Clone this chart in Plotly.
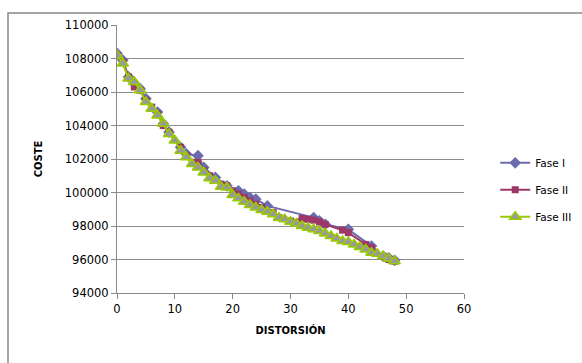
import plotly.graph_objects as go

fase1_x = [0, 1, 2, 3, 4, 5, 7, 8, 9, 11, 12, 14, 15, 17, 19, 21, 22, 23, 24, 26, 34, 35, 36, 40, 44, 46, 47, 48]
fase1_y = [108300, 107900, 106900, 106500, 106200, 105600, 104800, 104100, 103600, 102700, 102300, 102200,
           101500, 100900, 100400, 100100, 99900, 99700, 99600, 99200, 98500, 98300, 98100, 97800, 96800,
           96200, 96100, 95950]

fase2_x = [0, 1, 2, 3, 4, 5, 6, 7, 8, 9, 11, 12, 13, 14, 15, 16, 18, 19, 20, 21, 22, 23, 24, 25, 27, 28,
           30, 32, 33, 34, 35, 36, 39, 40, 43, 44, 46, 47, 48]
fase2_y = [108200, 107800, 106900, 106300, 106100, 105500, 105100, 104700, 104000, 103600, 102700, 102200,
           101800, 101800, 101300, 101000, 100500, 100400, 100100, 99900, 99700, 99500, 99300, 99100, 98800,
           98500, 98300, 98450, 98400, 98350, 98250, 98100, 97750, 97600, 96900, 96700, 96200, 96000, 95900]

fase3_x = list(range(0, 49))
fase3_y = [108200, 107700, 106800, 106600, 106100, 105400, 105000, 104600, 104100, 103500, 103100, 102500,
           102100, 101700, 101500, 101200, 100850, 100700, 100350, 100300, 99850, 99650, 99450, 99250, 99100,
           98950, 98850, 98700, 98500, 98400, 98250, 98150, 98000, 97900, 97800, 97700, 97550, 97400, 97250,
           97100, 97050, 96900, 96750, 96600, 96400, 96350, 96200, 96050, 95900]

x_ticks = [0, 10, 20, 30, 40, 50, 60]
y_ticks = [94000, 96000, 98000, 100000, 102000, 104000, 106000, 108000, 110000]

FONT = "DejaVu Sans"

fig = go.Figure()
fig.add_trace(go.Scatter(x=fase1_x, y=fase1_y, name="Fase I", mode="lines+markers", legendgroup="a",
                         line=dict(color="#6B6BAE", width=2),
                         marker=dict(symbol="diamond", size=9, color="#6B6BAE")))
fig.add_trace(go.Scatter(x=fase2_x, y=fase2_y, name="Fase II", mode="lines+markers", legendgroup="b",
                         line=dict(color="#9E3767", width=2),
                         marker=dict(symbol="square", size=7, color="#9E3767")))
fig.add_trace(go.Scatter(x=fase3_x, y=fase3_y, name="Fase III", mode="lines+markers", legendgroup="c",
                         line=dict(color="#99CC00", width=2),
                         marker=dict(symbol="triangle-up", size=10, color="#999999",
                                     line=dict(color="#99CC00", width=1.5))))

fig.update_layout(
    width=582, height=363,
    margin=dict(l=117, r=118, t=25, b=70, autoexpand=False),
    paper_bgcolor="white", plot_bgcolor="white",
    font=dict(family=FONT, size=11, color="black"),
    legend=dict(x=1.09, y=0.385, xanchor="left", yanchor="middle",
                font=dict(size=10.5), tracegroupgap=8, itemwidth=30),
    xaxis=dict(range=[0, 60], tickvals=x_ticks, showgrid=False, zeroline=False,
               showline=True, linecolor="#888888", linewidth=1,
               ticks="outside", ticklen=5, tickcolor="#888888", tickfont=dict(size=11.5),
               title=dict(text="<b>DISTORSIÓN</b>", font=dict(size=10), standoff=12)),
    yaxis=dict(range=[94000, 110000], tickvals=y_ticks, tickformat="d", showgrid=True,
               gridcolor="#8C8C8C", tickfont=dict(size=11.5),
               gridwidth=1, zeroline=False, showline=True, linecolor="#888888", linewidth=1,
               ticks="outside", ticklen=5, tickcolor="#888888",
               title=dict(text="<b>COSTE</b>", font=dict(size=10), standoff=20)),
    shapes=[dict(type="rect", xref="paper", yref="paper",
                 x0=(8 - 117) / 347, x1=2, y0=-1, y1=(293 - 13) / 268,
                 line=dict(color="#888888", width=1.5), fillcolor="rgba(0,0,0,0)", layer="below")],
)

fig.write_html("out.html")
